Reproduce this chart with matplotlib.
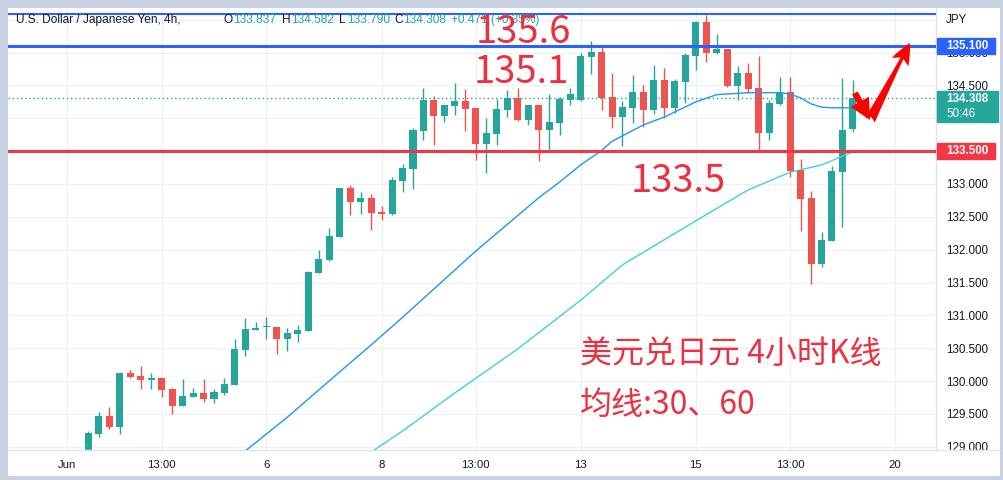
import matplotlib
matplotlib.use("Agg")
import matplotlib.pyplot as plt
from matplotlib.patches import Rectangle
from matplotlib.lines import Line2D

W, H = 1004, 480

# ---------------- data ----------------
opens = [128.85, 129.195, 129.469, 129.302, 130.123, 130.078, 130.017, 130.047, 129.880, 129.621,
         129.758, 129.819, 129.728, 129.819, 129.941, 130.474, 130.778, 130.823, 130.823, 130.641,
         130.717, 130.763, 131.645, 131.843, 132.193, 132.939, 132.726, 132.787, 132.574, 132.543,
         133.046, 133.228, 133.807, 134.278, 134.035, 134.187, 134.263, 134.157, 133.609, 133.761,
         134.126, 134.309, 133.974, 134.202, 133.822, 133.928, 134.278, 134.278, 134.933, 135.009,
         134.324, 134.020, 134.157, 134.400, 134.126, 134.583, 134.157, 134.552, 134.948, 135.466,
         134.994, 135.055, 134.492, 134.689, 134.461, 133.776, 134.218, 134.400, 133.213, 132.787,
         131.782, 132.132, 133.183, 133.837]
highs = [129.241, 129.530, 129.606, 130.130, 130.169, 130.230, 130.123, 130.050, 129.895, 130.032,
         129.895, 130.032, 129.880, 130.047, 130.641, 130.961, 130.900, 130.976, 130.830, 130.808,
         130.854, 131.676, 131.995, 132.330, 132.945, 132.985, 132.878, 132.848, 132.665, 133.107,
         133.304, 133.852, 134.461, 134.339, 134.210, 134.537, 134.446, 134.160, 134.005, 134.294,
         134.431, 134.461, 134.210, 134.210, 134.370, 134.324, 134.461, 134.994, 135.176, 135.116,
         134.689, 134.263, 134.659, 134.507, 134.811, 134.766, 134.598, 134.994, 135.480, 135.572,
         135.283, 135.060, 134.796, 134.842, 134.948, 134.278, 134.629, 134.629, 133.381, 132.893,
         132.269, 133.274, 134.613, 134.582]
lows = [128.80, 129.149, 129.271, 129.195, 130.047, 129.880, 129.880, 129.758, 129.499, 129.615,
        129.755, 129.682, 129.667, 129.789, 129.940, 130.382, 130.775, 130.641, 130.413, 130.458,
        130.595, 130.760, 131.640, 131.828, 132.190, 132.528, 132.543, 132.300, 132.452, 132.528,
        132.878, 132.924, 133.670, 133.594, 133.944, 134.050, 133.807, 133.365, 133.167, 133.594,
        134.020, 133.959, 133.898, 133.350, 133.502, 133.746, 134.202, 134.270, 134.674, 134.126,
        133.852, 133.578, 133.928, 133.868, 134.065, 134.005, 134.081, 134.233, 134.735, 134.857,
        134.979, 134.476, 134.278, 134.400, 133.502, 133.670, 134.202, 133.107, 132.285, 131.478,
        131.737, 132.130, 132.346, 133.790]
closes = [129.210, 129.469, 129.302, 130.123, 130.063, 130.017, 130.047, 129.865, 129.621, 129.773,
          129.819, 129.728, 129.834, 129.956, 130.489, 130.793, 130.808, 130.827, 130.641, 130.732,
          130.778, 131.661, 131.859, 132.209, 132.939, 132.726, 132.787, 132.559, 132.543, 133.061,
          133.244, 133.822, 134.278, 134.035, 134.202, 134.263, 134.142, 133.609, 133.776, 134.142,
          134.309, 133.974, 134.202, 133.822, 133.944, 134.294, 134.370, 134.948, 135.009, 134.309,
          134.020, 134.172, 134.400, 134.126, 134.583, 134.157, 134.568, 134.963, 135.466, 134.994,
          135.055, 134.492, 134.689, 134.446, 133.776, 134.233, 134.400, 133.198, 132.772, 131.782,
          132.148, 133.198, 133.822, 134.308]

# moving averages (candle index, price)
ma30_idx = [14, 19, 24, 27, 30, 37, 43, 45, 47, 49, 50, 53, 55, 58, 60, 63, 66, 67, 68, 69, 70, 71, 73]
ma30 = [128.81, 129.45, 130.14, 130.55, 130.97, 131.98, 132.79, 133.03, 133.29, 133.51, 133.65, 133.90,
        134.02, 134.25, 134.36, 134.39, 134.39, 134.37, 134.31, 134.22, 134.17, 134.16, 134.16]
ma60_idx = [26, 30, 35, 41, 47, 51, 58, 63, 67, 70, 73]
ma60 = [128.81, 129.24, 129.82, 130.49, 131.23, 131.77, 132.44, 132.91, 133.18, 133.29, 133.49]

levels_blue = [135.59, 135.1]
level_red = 133.5

x_tick_pos = [-2, 7, 17, 28, 37, 47, 58, 67, 77]
x_tick_labels = ['Jun', '13:00', '6', '8', '13:00', '13', '15', '13:00', '20']
y_ticks = [129.0, 129.5, 130.0, 130.5, 131.0, 131.5, 132.0, 132.5, 133.0, 133.5, 134.0, 134.5, 135.0, 135.5]

header_title = 'U.S. Dollar / Japanese Yen, 4h,'
header_ohlc = [('O', '133.837'), ('H', '134.582'), ('L', '133.790'), ('C', '134.308')]
header_change = '+0.471 (+0.35%)'
countdown = '50:46'

# ---------------- style ----------------
UP, DOWN = '#26a69a', '#ef5350'
BLUE, RED = '#2962ff', '#f23645'
TXT = '#131722'
GRID = '#edf0f4'
ANN = '#ee2f3f'
AXF = 'Liberation Sans'

def fx(x):
    return x / W

def fy(y):
    return 1 - y / H

fig = plt.figure(figsize=(W / 100, H / 100), dpi=100, facecolor='#c8d1e2')
fig.patches.append(Rectangle((fx(8), fy(476)), (1000 - 8) / W, (476 - 8) / H,
                             transform=fig.transFigure, facecolor='white', edgecolor='none', zorder=-5))

YMIN, YMAX = 128.951, 135.679
ax = fig.add_axes([fx(8), fy(450), (936 - 8) / W, (450 - 8) / H])
ax.set_facecolor('none')
ax.set_xlim(-7.666, 80.93)
ax.set_ylim(YMIN, YMAX)

for s in ['top', 'left']:
    ax.spines[s].set_visible(False)
for s in ['right', 'bottom']:
    ax.spines[s].set_color('#e0e3eb')
    ax.spines[s].set_linewidth(1)

ax.yaxis.tick_right()
ax.set_yticks(y_ticks)
ax.set_yticklabels(['%.3f' % v if v < 135.4 else '' for v in y_ticks])
ax.set_xticks(x_tick_pos)
ax.set_xticklabels(x_tick_labels)
ax.tick_params(axis='y', length=0, pad=7.2, labelsize=8.4, labelcolor=TXT)
ax.tick_params(axis='x', length=0, pad=7, labelsize=8.2, labelcolor=TXT)
for lab in ax.get_xticklabels() + ax.get_yticklabels():
    lab.set_family(AXF)
ax.grid(True, color=GRID, lw=0.9, zorder=0)
ax.set_axisbelow(True)

# candles
for i, (o, h, l, c) in enumerate(zip(opens, highs, lows, closes)):
    col = UP if c >= o else DOWN
    ax.vlines(i, l, h, color=col, lw=1.0, zorder=2)
    ax.bar(i, max(abs(c - o), 0.02), bottom=min(o, c), width=0.67, color=col, zorder=2.1)

# moving averages
ax.plot(ma30_idx, ma30, color='#2196f3', lw=1.0, zorder=3)
ax.plot(ma60_idx, ma60, color='#3fd0e2', lw=1.0, zorder=3)

# horizontal levels
ax.axhline(levels_blue[0], color=BLUE, lw=1.5, zorder=4)
ax.axhline(levels_blue[1], color=BLUE, lw=2.2, zorder=4)
ax.axhline(level_red, color=RED, lw=2.2, zorder=4)
ax.axhline(closes[-1], color=UP, lw=1.0, ls=(0, (1, 2)), zorder=3)

# red arrows (down then up)
ax.annotate('', xy=(78.44, 135.146), xytext=(74.63, 133.974),
            arrowprops=dict(arrowstyle='fancy,head_length=0.7,head_width=0.6,tail_width=0.35',
                            color='#ff0000', lw=0, mutation_scale=22, shrinkA=0, shrinkB=0),
            annotation_clip=False, zorder=6)
ax.annotate('', xy=(74.63, 133.974), xytext=(73.19, 134.385),
            arrowprops=dict(arrowstyle='simple,head_length=1.0,head_width=1.0,tail_width=0.3',
                            color='#ff0000', lw=0, mutation_scale=15, shrinkA=0, shrinkB=0),
            annotation_clip=False, zorder=6)

# bottom axis line extension & price-scale area
fig.lines.append(Line2D([fx(936), fx(1000)], [fy(450), fy(450)], transform=fig.transFigure,
                        color='#e0e3eb', lw=1))

tag = fig.add_axes([fx(936), fy(450), 68 / W, (450 - 8) / H])
tag.set_xlim(0, 68)
tag.set_ylim(YMIN, YMAX)
tag.axis('off')
pu = 1 / 65.7
tag.add_patch(Rectangle((1, 135.1 - 8 * pu), 58, 16 * pu, color=BLUE, clip_on=False))
tag.text(10, 135.1, '%.3f' % levels_blue[1], color='white', fontsize=8.4, fontweight='bold',
         va='center', ha='left', family=AXF)
tag.add_patch(Rectangle((1, 133.944), 61, 134.415 - 133.944, color=UP, clip_on=False))
tag.text(10, 134.294, '%.3f' % closes[-1], color='white', fontsize=8.4, fontweight='bold',
         va='center', ha='left', family=AXF)
tag.text(10, 134.065, countdown, color='white', fontsize=8.4, va='center', ha='left', family=AXF)
tag.add_patch(Rectangle((1, level_red - 8 * pu), 58, 16 * pu, color=RED, clip_on=False))
tag.text(10, level_red, '%.3f' % level_red, color='white', fontsize=8.4, fontweight='bold',
         va='center', ha='left', family=AXF)

fig.text(fx(946), fy(20), 'JPY', color=TXT, fontsize=8.4, va='center', family=AXF)

# header legend
fig.text(fx(16), fy(20), header_title, color=TXT, fontsize=8.6, va='center', family=AXF)
hx = [(224, 233), (282, 291), (339, 347), (394, 403)]
for (lbl, val), (xl, xv) in zip(header_ohlc, hx):
    fig.text(fx(xl), fy(20), lbl, color=TXT, fontsize=8.6, va='center', family=AXF)
    fig.text(fx(xv), fy(20), val, color=UP, fontsize=8.6, va='center', family=AXF)
fig.text(fx(451), fy(20), header_change, color=UP, fontsize=8.6, va='center', family=AXF)

# annotations
CJK = ['Noto Sans CJK SC', 'DejaVu Sans']
fig.text(fx(476), fy(43), '135.6', color=ANN, fontsize=27.5, va='baseline', family=CJK, zorder=10)
fig.text(fx(474), fy(83), '135.1', color=ANN, fontsize=27.5, va='baseline', family=CJK, zorder=10)
fig.text(fx(631), fy(192), '133.5', color=ANN, fontsize=27.5, va='baseline', family=CJK, zorder=10)
fig.text(fx(580), fy(354), '美元兑日元 4小时K线', color=ANN, fontsize=23, va='center', family=CJK, zorder=10)
fig.text(fx(580), fy(405), '均线:30、60', color=ANN, fontsize=23, va='center', family=CJK, zorder=10)

fig.savefig('out.png', dpi=100, facecolor=fig.get_facecolor())
